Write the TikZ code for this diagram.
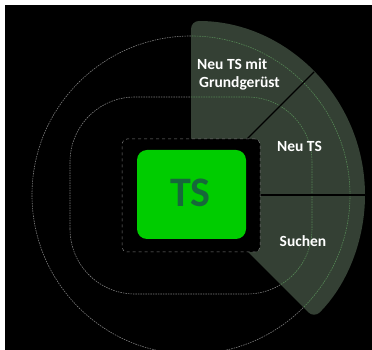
\documentclass[tikz,border=0pt]{standalone}
\usepackage{fontspec}
\setmainfont{Carlito}
\usetikzlibrary{calc}
\definecolor{sectorfill}{RGB}{52,64,52}
\definecolor{ringgray}{RGB}{125,125,125}
\definecolor{ringgreen}{RGB}{85,135,85}
\definecolor{tsgreen}{RGB}{0,204,0}
\definecolor{tstext}{RGB}{22,104,58}
\tikzset{
  ringline/.style={ringgray, line width=0.6pt, dash pattern=on 1.5pt off 1pt},
  ringin/.style={ringgreen, line width=0.6pt, dash pattern=on 1.5pt off 1pt},
  label/.style={text=white, font=\bfseries\fontsize{15.5}{18}\selectfont, inner sep=0pt},
  divider/.style={black, line width=1.4pt},
}
\begin{document}
\begin{tikzpicture}[x=1pt,y=1pt]
\useasboundingbox (0,0) rectangle (372,350);
\fill[white] (0,0) rectangle (372,350);
\fill[black] (5,0) rectangle (372,345);
\coordinate (C) at (191,155);
\coordinate (d1) at ($(C)+(45:174)$);
\coordinate (d2) at ($(C)+(0:174)$);
\begin{scope}
\clip (5,0) rectangle (372,345);
% rings
\draw[ringline] (C) circle (159);
\draw[ringline, rounded corners=65pt] (70,56) rectangle (312,253);
% sector
\fill[sectorfill, rounded corners=8pt] (C) -- ++(90:174) arc (90:-45:174) -- cycle;
\begin{scope}
\clip (C) -- ++(90:174) arc (90:-45:174) -- cycle;
\draw[ringin] (C) circle (159);
\draw[ringin, rounded corners=65pt] (70,56) rectangle (312,253);
\end{scope}
\draw[divider] (C) -- (d1);
\draw[divider] (C) -- (d2);
\end{scope}
% centre boxes
\node[draw=ringgray, dashed, line width=0.5pt, fill=black, rounded corners=5pt,
      minimum width=138pt, minimum height=113pt, inner sep=0pt] (frame) at (191,154.5) {};
\node[fill=tsgreen, rounded corners=10pt, minimum width=109pt, minimum height=89pt,
      inner sep=0pt] (ts) at (191.5,155.5) {};
\node[text=tstext, font=\bfseries\fontsize{42}{42}\selectfont, inner sep=0pt, anchor=base]
      (tslabel) at (190.5,143) {TS};
% labels
\node[label, anchor=base west] (l1a) at (197,280) {Neu TS mit};
\node[label, anchor=base west] (l1b) at (199,262) {Grundgerüst};
\node[label, anchor=base] (l2) at (299.5,198.5) {Neu TS};
\node[label, anchor=base] (l3) at (303,103) {Suchen};
\end{tikzpicture}
\end{document}
